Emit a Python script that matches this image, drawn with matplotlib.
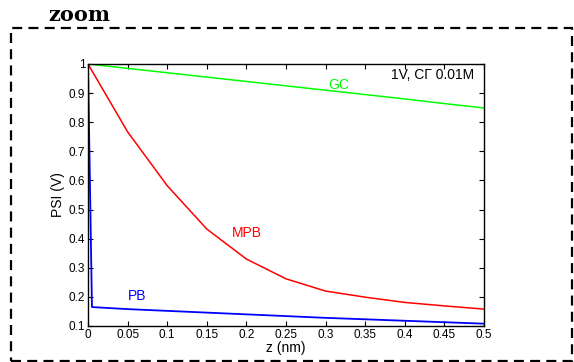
import matplotlib.pyplot as plt
from matplotlib.patches import Rectangle

# distance from surface (nm)
z = [0, 0.05, 0.1, 0.15, 0.2, 0.25, 0.3, 0.35, 0.4, 0.45, 0.5]
z_pb = [0, 0.005, 0.05, 0.1, 0.15, 0.2, 0.25, 0.3, 0.35, 0.4, 0.45, 0.5]

psi_gc = [1.0, 0.985, 0.970, 0.955, 0.940, 0.925, 0.910, 0.895, 0.880, 0.864, 0.849]
psi_mpb = [1.0, 0.767, 0.582, 0.433, 0.330, 0.262, 0.220, 0.199, 0.181, 0.169, 0.158]
psi_pb = [1.0, 0.165, 0.158, 0.152, 0.146, 0.140, 0.134, 0.128, 0.123, 0.118, 0.113, 0.108]

xticks = [0, 0.05, 0.1, 0.15, 0.2, 0.25, 0.3, 0.35, 0.4, 0.45, 0.5]
xticklabels = ['0', '0.05', '0.1', '0.15', '0.2', '0.25', '0.3', '0.35', '0.4', '0.45', '0.5']
yticks = [0.1, 0.2, 0.3, 0.4, 0.5, 0.6, 0.7, 0.8, 0.9, 1.0]
yticklabels = ['0.1', '0.2', '0.3', '0.4', '0.5', '0.6', '0.7', '0.8', '0.9', '1']

W, H = 574, 362
fig = plt.figure(figsize=(W / 100, H / 100), dpi=100)
plt.rcParams['font.family'] = ['Liberation Sans', 'DejaVu Sans']

# dashed frame around the figure
fig.patches.append(Rectangle((11 / W, 1 - 361 / H), (572 - 11) / W, (361 - 28) / H,
                             transform=fig.transFigure, fill=False, ec='black',
                             lw=1.6, ls=(0, (4.5, 2.8))))
fig.text(48 / W, 1 - 21 / H, 'zoom', family='DejaVu Serif', fontweight='bold',
         fontsize=15, ha='left', va='baseline')

ax = fig.add_axes([88 / W, 1 - 326 / H, (484 - 88) / W, (326 - 64) / H])
ax.plot(z, psi_gc, color='#00ff00', lw=1.1)
ax.plot(z, psi_mpb, color='red', lw=1.1)
ax.plot(z_pb, psi_pb, color='blue', lw=1.3)

ax.set_xlim(0, 0.5)
ax.set_ylim(0.1, 1)
ax.set_xticks(xticks)
ax.set_xticklabels(xticklabels)
ax.set_yticks(yticks)
ax.set_yticklabels(yticklabels)
ax.tick_params(direction='in', length=3.5, width=0.8, labelsize=8.5, pad=2,
               top=True, right=True)
for s in ax.spines.values():
    s.set_linewidth(1.0)

ax.set_xlabel('z (nm)', fontsize=10, labelpad=0)
ax.set_ylabel('PSI (V)', fontsize=10, labelpad=3)

ax.text(0.317, 0.928, 'GC', color='#00ff00', fontsize=10, ha='center', va='center')
ax.text(0.2, 0.42, 'MPB', color='red', fontsize=10, ha='center', va='center')
ax.text(0.062, 0.203, 'PB', color='blue', fontsize=10, ha='center', va='center')
ax.text(0.487, 0.962, '1V, C\u0393 0.01M', color='black', fontsize=10,
        ha='right', va='center')

fig.savefig('out.png', dpi=100)
